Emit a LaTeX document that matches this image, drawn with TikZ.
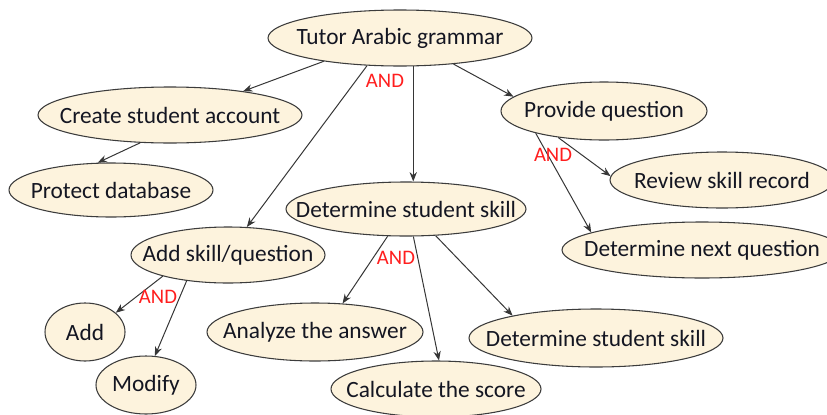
\documentclass[tikz,border=0pt]{standalone}
\usepackage{fontspec}
\setmainfont{Carlito}
\usetikzlibrary{shapes.geometric,arrows.meta}
\definecolor{ovalfill}{RGB}{253,243,221}
\definecolor{ovaldraw}{RGB}{60,60,60}
\definecolor{ovaltext}{RGB}{20,22,34}
\definecolor{andred}{RGB}{255,30,30}
\tikzset{
  goal/.style 2 args={ellipse, draw=ovaldraw, fill=ovalfill, line width=0.8pt,
    inner sep=0pt, minimum width=#1, minimum height=#2},
  gtext/.style={text=ovaltext, inner sep=0pt, font=\fontsize{17.5}{20}\selectfont},
  link/.style={draw=ovaldraw!90!black, line width=0.75pt,
    -{Stealth[length=7pt,width=5.5pt]}},
  andlbl/.style={text=andred, font=\fontsize{15.5}{17}\selectfont, inner sep=0pt}
}
\begin{document}
\begin{tikzpicture}[x=0.75pt,y=-0.75pt]
\useasboundingbox (0,0) rectangle (827,414);

% goals: the ellipse is sized explicitly, the caption sits on its centre
\node[goal={198pt}{42pt}, label={[gtext]center:Tutor Arabic grammar}] (tutor) at (400,38) {};
\node[goal={198pt}{42pt}, label={[gtext]center:Create student account}] (create) at (170,115) {};
\node[goal={153pt}{40.5pt}, label={[gtext]center:Protect database}] (protect) at (111,190) {};
\node[goal={154.5pt}{43.5pt}, label={[gtext]center:Provide question}] (provq) at (604,111) {};
\node[goal={168pt}{42pt}, label={[gtext]center:Review skill record}] (review) at (722,180) {};
\node[goal={210pt}{42pt}, label={[gtext]center:Determine next question}] (nextq) at (702,250) {};
\node[goal={180pt}{40.5pt}, label={[gtext]center:Determine student skill}] (dss) at (406,209) {};
\node[goal={145.5pt}{42pt}, label={[gtext]center:Add skill/question}] (addsq) at (228,255) {};
\node[goal={60pt}{43.5pt}, label={[gtext]center:Add}] (add) at (85,332) {};
\node[goal={75pt}{43.5pt}, label={[gtext]center:Modify}] (modify) at (146,385) {};
\node[goal={162pt}{43.5pt}, label={[gtext]center:Analyze the answer}] (analyze) at (315,332) {};
\node[goal={157.5pt}{42pt}, label={[gtext]center:Calculate the score}] (calc) at (436,389) {};
\node[goal={190.5pt}{43.5pt}, label={[gtext]center:Determine student skill}] (dss2) at (596,338) {};

% refinement links
\draw[link] (tutor.197) -- (create.18);
\draw[link] (create.223) -- (protect.116);
\draw[link] (tutor.220) -- (addsq.56);
\draw[link] (tutor.295) -- (tutor.295 |- dss.north);
\draw[link] (tutor.334) -- (provq.171);
\draw[link] (provq.210) -- (review.178);
\draw[link] (provq.198) -- (nextq.171);
\draw[link] (addsq.198) -- (add.32);
\draw[link] (addsq.212) -- (modify.73);
\draw[link] (dss.236) -- (analyze.46);
\draw[link] (dss.285) -- (calc.84);
\draw[link] (dss.318) -- (dss2.165);

% decomposition labels
\node[andlbl] (and1) at (385,81)  {AND};
\node[andlbl] (and2) at (553,155) {AND};
\node[andlbl] (and3) at (158,297) {AND};
\node[andlbl] (and4) at (396,258) {AND};
\end{tikzpicture}
\end{document}
